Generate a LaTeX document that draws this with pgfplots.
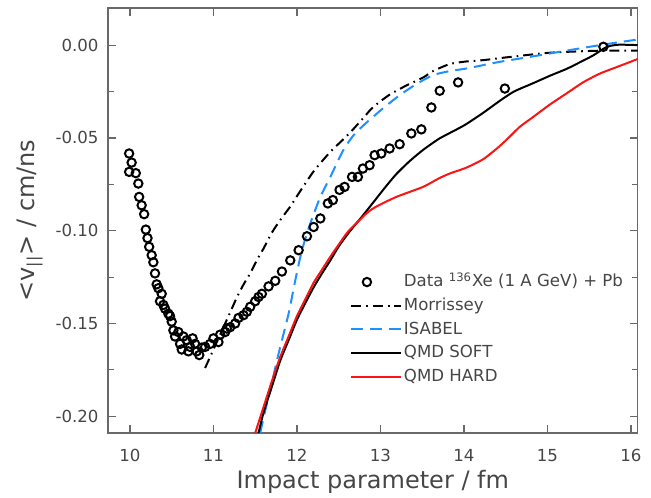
\documentclass[border=0pt]{standalone}
\usepackage{fontspec}
\setmainfont{DejaVu Sans}
\usepackage{pgfplots}
\pgfplotsset{compat=1.18}
\definecolor{isablue}{RGB}{30,144,255}
\definecolor{hardred}{RGB}{250,20,20}
\definecolor{axcol}{RGB}{105,105,105}
\definecolor{labcol}{RGB}{70,70,70}
\begin{document}
\begin{tikzpicture}
\begin{axis}[
  scale only axis, width=264.8pt, height=212.5pt,
  xmin=9.737, xmax=16.08, ymin=-0.209, ymax=0.020,
  xtick={10,11,12,13,14,15,16},
  ytick={-0.20,-0.15,-0.10,-0.05,0},
  minor y tick num=1,
  tick align=inside,
  major tick length=4pt, minor tick length=3pt,
  axis line style={draw=axcol, line width=0.7pt},
  every tick/.style={draw=axcol, line width=0.6pt},
  /pgf/number format/assume math mode=true,
  scaled y ticks=false,
  yticklabel style={/pgf/number format/fixed, /pgf/number format/fixed zerofill,
    /pgf/number format/precision=2, xshift=-1.2pt},
  xticklabel style={yshift=-4.7pt},
  ticklabel style={font=\fontsize{8.3}{10}\selectfont, text=labcol},
  xlabel={Impact parameter / fm},
  ylabel={<v\textsubscript{||}> / cm/ns},
  label style={font=\fontsize{12}{14}\selectfont, text=labcol},
  xlabel style={at={(axis description cs:0.5,0)}, anchor=center, yshift=-24.5pt},
  ylabel style={at={(axis description cs:0,0.5)}, anchor=center, yshift=39pt},
  legend style={draw=none, fill=none, at={(axis cs:12.63,-0.1219)}, anchor=north west,
    inner sep=0pt, font=\fontsize{8.3}{10}\selectfont, text=labcol, row sep=1.55pt,
    nodes={inner sep=1pt, text height=6.5pt, text depth=1.8pt}},
  legend cell align=left,
  legend image code/.code={\draw[mark repeat=2,mark phase=2,#1] plot coordinates {(0pt,0pt) (8pt,0pt) (25pt,0pt)};},
]
% data
\addplot[only marks, mark=o, mark size=2.1pt, black, line width=1pt] coordinates {
(9.99,-0.0584) (10.02,-0.0633) (9.99,-0.0683) (10.07,-0.069) (10.10,-0.0746)
(10.11,-0.0818) (10.14,-0.0863) (10.17,-0.0911) (10.19,-0.0994) (10.21,-0.104)
(10.23,-0.1087) (10.26,-0.1132) (10.28,-0.117) (10.30,-0.123) (10.32,-0.1289)
(10.34,-0.131) (10.38,-0.134) (10.36,-0.138) (10.40,-0.140) (10.42,-0.142)
(10.46,-0.1447) (10.48,-0.146) (10.50,-0.149) (10.52,-0.1537) (10.58,-0.1546)
(10.54,-0.157) (10.60,-0.161) (10.62,-0.164) (10.64,-0.157) (10.68,-0.159)
(10.70,-0.165) (10.72,-0.1626) (10.75,-0.158) (10.78,-0.161) (10.80,-0.165)
(10.83,-0.167) (10.86,-0.163) (10.90,-0.1626) (10.96,-0.161) (11.00,-0.158)
(11.06,-0.160) (11.08,-0.156) (11.14,-0.1546) (11.16,-0.1527) (11.20,-0.152)
(11.26,-0.150) (11.30,-0.147) (11.36,-0.1455) (11.40,-0.1437) (11.44,-0.141)
(11.50,-0.138) (11.54,-0.1357) (11.58,-0.134) (11.66,-0.130) (11.74,-0.127)
(11.82,-0.122) (11.92,-0.116) (12.02,-0.1105) (12.12,-0.103) (12.20,-0.098)
(12.28,-0.0934) (12.37,-0.0853) (12.43,-0.0835) (12.51,-0.078) (12.57,-0.0764)
(12.66,-0.071) (12.73,-0.071) (12.79,-0.0665) (12.87,-0.0647) (12.93,-0.0593)
(13.01,-0.0584) (13.11,-0.0557) (13.23,-0.0534) (13.37,-0.0476) (13.49,-0.0454)
(13.61,-0.0336) (13.71,-0.0246) (13.93,-0.0201) (14.49,-0.0234) (15.67,-0.0009)
};
\addlegendentry{Data \textsuperscript{136}Xe (1 A GeV) + Pb}
% Morrissey
\addplot[black, line width=1pt, smooth, tension=0.4, dash pattern=on 5pt off 2.5pt on 0.8pt off 2.5pt] coordinates {
(10.90,-0.174) (11.00,-0.164) (11.10,-0.154) (11.20,-0.144) (11.28,-0.136)
(11.36,-0.129) (11.44,-0.123) (11.53,-0.115) (11.60,-0.1096) (11.70,-0.101)
(11.82,-0.093) (11.92,-0.087) (12.02,-0.080) (12.20,-0.068) (12.40,-0.0575)
(12.55,-0.051) (12.67,-0.0455) (12.80,-0.039) (12.91,-0.0335) (13.10,-0.027)
(13.30,-0.022) (13.51,-0.0175) (13.63,-0.0140) (13.83,-0.0102) (14.03,-0.0088)
(14.23,-0.0081) (14.51,-0.0066) (15.03,-0.0041) (15.63,-0.003) (16.08,-0.003)
};
\addlegendentry{Morrissey}
% ISABEL
\addplot[isablue, line width=1pt, smooth, tension=0.4, dash pattern=on 6pt off 3.5pt] coordinates {
(11.56,-0.209) (11.62,-0.197) (11.68,-0.186) (11.74,-0.174) (11.80,-0.1626)
(11.90,-0.1447) (11.98,-0.1267) (12.06,-0.1105) (12.16,-0.0961) (12.28,-0.0818)
(12.40,-0.071) (12.55,-0.057) (12.67,-0.049) (12.80,-0.0431) (13.03,-0.0341)
(13.23,-0.027) (13.43,-0.021) (13.63,-0.0162) (13.83,-0.0140) (14.03,-0.0126)
(14.43,-0.009) (14.73,-0.0068) (15.03,-0.0045) (15.33,-0.0022) (15.63,0.0)
(15.85,0.0015) (16.08,0.003)
};
\addlegendentry{ISABEL}
% QMD soft
\addplot[black, line width=1pt, smooth, tension=0.4] coordinates {
(11.54,-0.209) (11.60,-0.198) (11.70,-0.184) (11.80,-0.170) (11.90,-0.159)
(12.00,-0.148) (12.10,-0.139) (12.20,-0.1305) (12.30,-0.123) (12.40,-0.116)
(12.50,-0.1085) (12.63,-0.1005) (12.75,-0.094) (12.91,-0.085) (13.05,-0.077)
(13.19,-0.0695) (13.35,-0.0625) (13.51,-0.0565) (13.70,-0.0505) (13.91,-0.0455)
(14.03,-0.0425) (14.23,-0.0365) (14.43,-0.030) (14.60,-0.025) (14.83,-0.0205)
(15.03,-0.0165) (15.23,-0.0128) (15.40,-0.0090) (15.55,-0.0055) (15.71,-0.0010)
(15.85,0.0002) (16.08,0.0)
};
\addlegendentry{QMD SOFT}
% QMD hard
\addplot[hardred, line width=1pt, smooth, tension=0.4] coordinates {
(11.50,-0.209) (11.60,-0.195) (11.70,-0.181) (11.80,-0.168) (11.90,-0.157)
(12.00,-0.146) (12.10,-0.137) (12.20,-0.128) (12.30,-0.121) (12.40,-0.114)
(12.50,-0.1075) (12.61,-0.1006) (12.75,-0.0943) (12.85,-0.0900) (12.95,-0.0870)
(13.19,-0.0818) (13.51,-0.0764) (13.70,-0.0718) (13.83,-0.0692) (14.03,-0.0660)
(14.23,-0.0615) (14.40,-0.0555) (14.51,-0.051) (14.67,-0.044) (14.83,-0.0387)
(15.03,-0.032) (15.23,-0.026) (15.43,-0.020) (15.63,-0.0153) (15.85,-0.0115)
(16.08,-0.0075)
};
\addlegendentry{QMD HARD}
\end{axis}
\pgfresetboundingbox
\path[use as bounding box] ([xshift=-54pt,yshift=-32pt]current axis.south west)
  rectangle ([xshift=6.7pt,yshift=4pt]current axis.north east);
\end{tikzpicture}
\end{document}
